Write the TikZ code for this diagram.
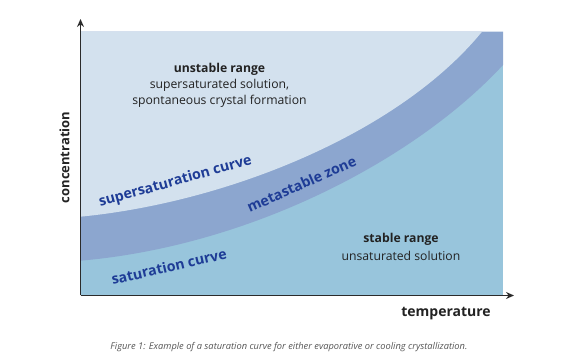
\documentclass[tikz,border=0pt]{standalone}
\usepackage{fontspec}
\setmainfont{Open Sans}
\usetikzlibrary{arrows.meta}
\definecolor{topc}{HTML}{D3E1EE}
\definecolor{bandc}{HTML}{8CA6CF}
\definecolor{botc}{HTML}{98C5DC}
\definecolor{labc}{HTML}{1E3C96}
\definecolor{axc}{HTML}{2B2B2B}
\definecolor{txtc}{HTML}{222222}
\definecolor{capc}{HTML}{555555}
\tikzset{
  axisline/.style={draw=axc, line width=1.3pt, -{Stealth[length=8pt,width=7pt]}},
  regiontitle/.style={font=\fontsize{12.2}{15.5}\selectfont\bfseries, text=txtc, inner sep=0pt},
  regiontext/.style={font=\fontsize{12.2}{15.5}\selectfont, text=txtc, inner sep=0pt, align=center},
  curvelabel/.style={font=\fontsize{14.2}{16}\selectfont\bfseries, text=labc, inner sep=0pt},
  axislabel/.style={font=\fontsize{14}{16}\selectfont\bfseries, text=txtc, inner sep=0pt},
  captionstyle/.style={font=\fontsize{9.3}{11}\selectfont\itshape, text=capc, inner sep=0pt}
}
\begin{document}
\begin{tikzpicture}[x=1pt,y=-1pt]
\useasboundingbox (0,0) rectangle (579,363);
% regions
\fill[botc] (80.5,31.7) rectangle (503,295.5);
\fill[bandc] (80.5,260.7) .. controls (250,246) and (415,160) .. (503,65) -- (503,31.7) -- (80.5,31.7) -- cycle;
\fill[topc] (80.5,216.7) .. controls (230,202) and (400,132) .. (482,31.7) -- (80.5,31.7) -- cycle;
% axes
\coordinate (o) at (80.5,295.5);
\coordinate (ytip) at (80.5,19);
\coordinate (xtip) at (514,295.5);
\draw[axisline] (o) -- (ytip);
\draw[axisline] (o) -- (xtip);
% texts
\node[regiontitle] (unst) at (219.5,69.3) {unstable range};
\node[regiontext] (unsttxt) at (219.5,93.2) {supersaturated solution,\\spontaneous crystal formation};
\node[regiontitle] (stab) at (401,239.3) {stable range};
\node[regiontext] (stabtxt) at (401,256) {unsaturated solution};
\node[curvelabel, rotate=15.6] (ssc) at (175.5,182) {supersaturation curve};
\node[curvelabel, rotate=24] (msz) at (301.5,184) {metastable zone};
\node[curvelabel, rotate=13] (sc) at (169,266.5) {saturation curve};
\node[axislabel] (temp) at (446,313.3) {temperature};
\node[axislabel, font=\fontsize{13}{16}\selectfont\bfseries, rotate=90] (conc) at (64.6,157.5) {concentration};
\node[captionstyle] (cap) at (289,346.7) {Figure 1: Example of a saturation curve for either evaporative or cooling crystallization.};
\end{tikzpicture}
\end{document}
